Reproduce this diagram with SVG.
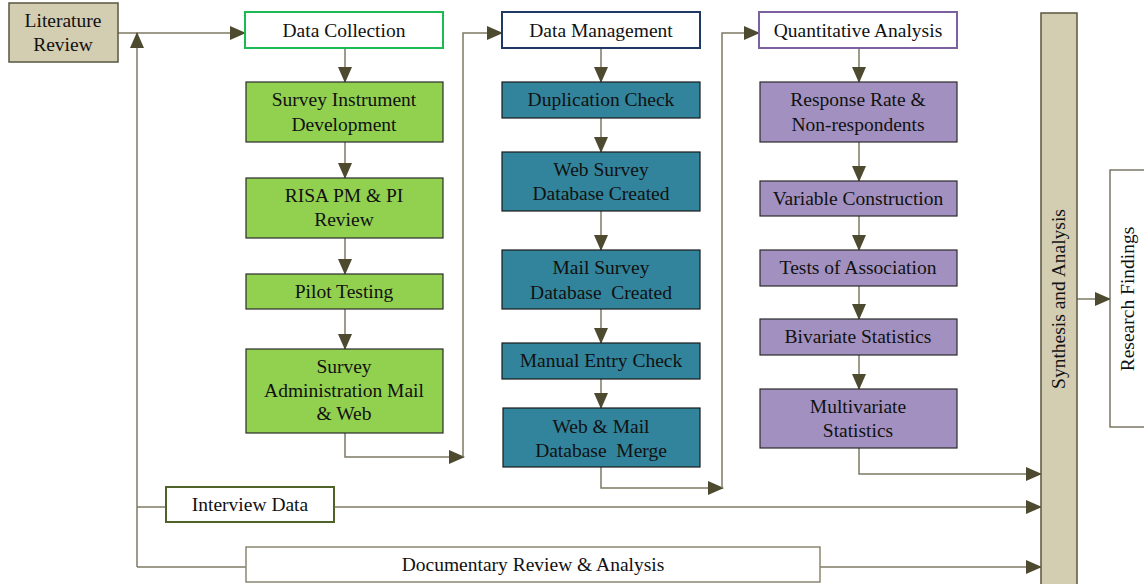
<svg xmlns="http://www.w3.org/2000/svg" width="1144" height="584" viewBox="0 0 1144 584">
<defs>
<marker id="ah" markerWidth="16" markerHeight="14" refX="15" refY="7" orient="auto" markerUnits="userSpaceOnUse">
<path d="M0,0 L16,7 L0,14 Z" fill="#4d4a30"/>
</marker>
<style>
text{font-family:"Liberation Serif","Times New Roman",serif;font-size:19.5px;fill:#111;text-anchor:middle;}
.c{fill:none;stroke:#7f7a64;stroke-width:1.5;}
.tan{fill:#d3cdb1;stroke:#5a5640;stroke-width:1.5;}
.grn{fill:#92d050;stroke:#2a2a2a;stroke-width:1.2;}
.teal{fill:#31849b;stroke:#1a1a1a;stroke-width:1.2;}
.pur{fill:#a291c0;stroke:#2a2a2a;stroke-width:1.2;}
</style>
</defs>
<rect width="1144" height="584" fill="#fff"/>
<g id="connectors">
<path class="c" d="M118,33 H245" marker-end="url(#ah)"/>
<path class="c" d="M137,567 V33" marker-end="url(#ah)"/>
<path class="c" d="M137,507 H166"/>
<path class="c" d="M137,567 H246"/>
<path class="c" d="M345,48 V82" marker-end="url(#ah)"/>
<path class="c" d="M345,142 V178" marker-end="url(#ah)"/>
<path class="c" d="M345,238 V274" marker-end="url(#ah)"/>
<path class="c" d="M345,309 V349" marker-end="url(#ah)"/>
<path class="c" d="M345,433 V457 H464" marker-end="url(#ah)"/>
<path class="c" d="M463,457 V33 H502" marker-end="url(#ah)"/>
<path class="c" d="M601,48 V82" marker-end="url(#ah)"/>
<path class="c" d="M601,118 V152" marker-end="url(#ah)"/>
<path class="c" d="M601,211 V250" marker-end="url(#ah)"/>
<path class="c" d="M601,309 V343" marker-end="url(#ah)"/>
<path class="c" d="M601,379 V408" marker-end="url(#ah)"/>
<path class="c" d="M601,467 V488 H723" marker-end="url(#ah)"/>
<path class="c" d="M722,488 V33 H759" marker-end="url(#ah)"/>
<path class="c" d="M859,48 V82" marker-end="url(#ah)"/>
<path class="c" d="M859,142 V181" marker-end="url(#ah)"/>
<path class="c" d="M859,216 V250" marker-end="url(#ah)"/>
<path class="c" d="M859,286 V319" marker-end="url(#ah)"/>
<path class="c" d="M859,355 V389" marker-end="url(#ah)"/>
<path class="c" d="M859,448 V474 H1041" marker-end="url(#ah)"/>
<path class="c" d="M334,507 H1041" marker-end="url(#ah)"/>
<path class="c" d="M820,567 H1041" marker-end="url(#ah)"/>
<path class="c" d="M1077,299 H1110" marker-end="url(#ah)"/>
</g>
<g id="literature-review">
<rect class="tan" x="9" y="3" width="109" height="59"/>
<text x="63" y="27">Literature</text>
<text x="63" y="51">Review</text>
</g>
<g id="data-collection">
<rect x="245" y="12" width="198" height="36" fill="#fff" stroke="#1db954" stroke-width="2"/>
<text x="344" y="37">Data Collection</text>
</g>
<g id="survey-instrument">
<rect class="grn" x="246" y="82" width="197" height="60"/>
<text x="344" y="106">Survey Instrument</text>
<text x="344" y="131">Development</text>
</g>
<g id="risa-review">
<rect class="grn" x="246" y="178" width="197" height="60"/>
<text x="344" y="202">RISA PM &amp; PI</text>
<text x="344" y="226">Review</text>
</g>
<g id="pilot-testing">
<rect class="grn" x="246" y="274" width="197" height="35"/>
<text x="344" y="298">Pilot Testing</text>
</g>
<g id="survey-administration">
<rect class="grn" x="246" y="349" width="197" height="84"/>
<text x="344" y="373">Survey</text>
<text x="344" y="397">Administration Mail</text>
<text x="344" y="420">&amp; Web</text>
</g>
<g id="data-management">
<rect x="502" y="12" width="198" height="36" fill="#fff" stroke="#1f3864" stroke-width="2"/>
<text x="601" y="37">Data Management</text>
</g>
<g id="duplication-check">
<rect class="teal" x="502" y="82" width="198" height="36"/>
<text x="601" y="106">Duplication Check</text>
</g>
<g id="web-survey-db">
<rect class="teal" x="502" y="152" width="198" height="59"/>
<text x="601" y="176">Web Survey</text>
<text x="601" y="200">Database Created</text>
</g>
<g id="mail-survey-db">
<rect class="teal" x="502" y="250" width="198" height="59"/>
<text x="601" y="274">Mail Survey</text>
<text x="601" y="299" xml:space="preserve">Database  Created</text>
</g>
<g id="manual-entry-check">
<rect class="teal" x="502" y="343" width="198" height="36"/>
<text x="601" y="367">Manual Entry Check</text>
</g>
<g id="db-merge">
<rect class="teal" x="503" y="408" width="197" height="59"/>
<text x="601" y="433">Web &amp; Mail</text>
<text x="601" y="457" xml:space="preserve">Database  Merge</text>
</g>
<g id="quantitative-analysis">
<rect x="759" y="12" width="198" height="36" fill="#fff" stroke="#7d60a0" stroke-width="2"/>
<text x="858" y="37">Quantitative Analysis</text>
</g>
<g id="response-rate">
<rect class="pur" x="760" y="82" width="197" height="60"/>
<text x="858" y="106">Response Rate &amp;</text>
<text x="858" y="131">Non-respondents</text>
</g>
<g id="variable-construction">
<rect class="pur" x="760" y="181" width="197" height="35"/>
<text x="858" y="205">Variable Construction</text>
</g>
<g id="tests-association">
<rect class="pur" x="760" y="250" width="197" height="36"/>
<text x="858" y="274">Tests of Association</text>
</g>
<g id="bivariate">
<rect class="pur" x="760" y="319" width="197" height="36"/>
<text x="858" y="343">Bivariate Statistics</text>
</g>
<g id="multivariate">
<rect class="pur" x="760" y="389" width="197" height="59"/>
<text x="858" y="413">Multivariate</text>
<text x="858" y="437">Statistics</text>
</g>
<g id="interview-data">
<rect x="166" y="487" width="168" height="35" fill="#fff" stroke="#4f6228" stroke-width="2"/>
<text x="250" y="511">Interview Data</text>
</g>
<g id="documentary-review">
<rect x="246" y="547" width="574" height="35" fill="#fff" stroke="#8a8672" stroke-width="1.5"/>
<text x="533" y="571">Documentary Review &amp; Analysis</text>
</g>
<g id="synthesis">
<rect class="tan" x="1041" y="13" width="36" height="580"/>
<text transform="translate(1065,299) rotate(-90)">Synthesis and Analysis</text>
</g>
<g id="research-findings">
<rect x="1110" y="170" width="40" height="257" fill="#fff" stroke="#5a5640" stroke-width="1.2"/>
<text transform="translate(1134,299) rotate(-90)">Research Findings</text>
</g>
</svg>
